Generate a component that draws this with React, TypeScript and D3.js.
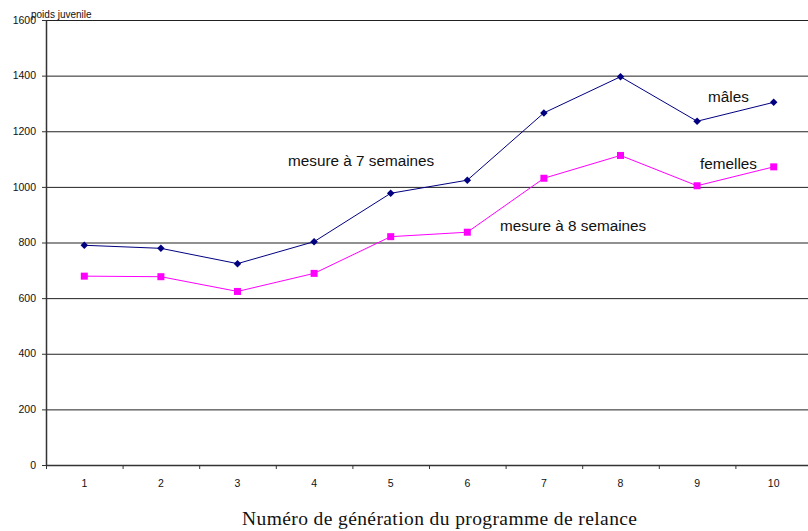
import { useEffect, useRef } from 'react'
import * as d3 from 'd3'

const generations = ['1', '2', '3', '4', '5', '6', '7', '8', '9', '10']
const males = [790, 779, 724, 803, 977, 1024, 1266, 1396, 1236, 1304]
const females = [679, 677, 624, 689, 821, 837, 1031, 1113, 1004, 1072]
const yTicks = [0, 200, 400, 600, 800, 1000, 1200, 1400, 1600]

export default function App() {
  const svgRef = useRef<SVGSVGElement>(null)
  const width = 808
  const height = 531

  useEffect(() => {
    if (!svgRef.current) return
    const svg = d3.select(svgRef.current)
    svg.selectAll('*').remove()

    const left = 46
    const top = 20
    const bottom = 465
    const right = 812

    const x = d3.scaleBand<string>().domain(generations).range([left, right])
    const y = d3.scaleLinear().domain([0, 1600]).range([bottom, top])
    const cx = (i: number) => (x(generations[i]) || 0) + x.bandwidth() / 2

    // gridlines
    svg
      .append('g')
      .selectAll('line')
      .data(yTicks.filter((t) => t > 0))
      .enter()
      .append('line')
      .attr('x1', left)
      .attr('x2', width)
      .attr('y1', (d) => y(d) + 0.5)
      .attr('y2', (d) => y(d) + 0.5)
      .attr('stroke', '#222')
      .attr('stroke-width', 1)

    // y axis
    const yAxis = svg.append('g').attr('font-family', 'Arial, Liberation Sans, sans-serif')
    yAxis
      .append('line')
      .attr('x1', left + 0.5)
      .attr('x2', left + 0.5)
      .attr('y1', top)
      .attr('y2', bottom)
      .attr('stroke', '#333')
      .attr('stroke-width', 1.5)
    yTicks.forEach((t) => {
      yAxis
        .append('line')
        .attr('x1', left - 4)
        .attr('x2', left)
        .attr('y1', y(t) + 0.5)
        .attr('y2', y(t) + 0.5)
        .attr('stroke', '#333')
      yAxis
        .append('text')
        .attr('x', left - 10)
        .attr('y', y(t))
        .attr('dy', '0.35em')
        .attr('text-anchor', 'end')
        .attr('font-size', 10.5)
        .attr('fill', '#111')
        .text(t)
    })

    // x axis
    const xAxis = svg.append('g').attr('font-family', 'Arial, Liberation Sans, sans-serif')
    xAxis
      .append('line')
      .attr('x1', left)
      .attr('x2', width)
      .attr('y1', bottom + 0.5)
      .attr('y2', bottom + 0.5)
      .attr('stroke', '#333')
      .attr('stroke-width', 1.5)
    generations.forEach((g, i) => {
      const x0 = x(g) || 0
      xAxis
        .append('line')
        .attr('x1', x0 + 0.5)
        .attr('x2', x0 + 0.5)
        .attr('y1', bottom)
        .attr('y2', bottom + 4)
        .attr('stroke', '#333')
      xAxis
        .append('text')
        .attr('x', cx(i))
        .attr('y', bottom + 22)
        .attr('text-anchor', 'middle')
        .attr('font-size', 10.5)
        .attr('fill', '#111')
        .text(g)
    })

    const line = d3
      .line<number>()
      .x((_, i) => cx(i))
      .y((d) => y(d))

    // males
    svg
      .append('path')
      .datum(males)
      .attr('d', line)
      .attr('fill', 'none')
      .attr('stroke', '#000080')
      .attr('stroke-width', 1)
    svg
      .append('g')
      .selectAll('path')
      .data(males)
      .enter()
      .append('path')
      .attr('d', d3.symbol(d3.symbolDiamond2, 36)())
      .attr('transform', (d, i) => `translate(${cx(i)},${y(d)})`)
      .attr('fill', '#000080')

    // females
    svg
      .append('path')
      .datum(females)
      .attr('d', line)
      .attr('fill', 'none')
      .attr('stroke', '#ff00ff')
      .attr('stroke-width', 1)
    svg
      .append('g')
      .selectAll('rect')
      .data(females)
      .enter()
      .append('rect')
      .attr('x', (d, i) => cx(i) - 3.5)
      .attr('y', (d) => y(d) - 3.5)
      .attr('width', 7)
      .attr('height', 7)
      .attr('fill', '#ff00ff')

    // annotations
    const ann = svg.append('g').attr('font-family', 'Arial, Liberation Sans, sans-serif').attr('fill', '#111')
    ann.append('text').attr('x', 31).attr('y', 18).attr('font-size', 10).text('poids juvenile')
    ann.append('text').attr('x', 288).attr('y', 166).attr('font-size', 15.3).text('mesure à 7 semaines')
    ann.append('text').attr('x', 500).attr('y', 231).attr('font-size', 15.3).text('mesure à 8 semaines')
    ann.append('text').attr('x', 708).attr('y', 102).attr('font-size', 15.3).text('mâles')
    ann.append('text').attr('x', 700).attr('y', 169).attr('font-size', 15.3).text('femelles')

    svg
      .append('text')
      .attr('x', 242)
      .attr('y', 525)
      .attr('textLength', 395)
      .attr('lengthAdjust', 'spacing')
      .attr('font-family', 'Times New Roman, Liberation Serif, serif')
      .attr('font-size', 19.5)
      .attr('fill', '#111')
      .text('Numéro de génération du programme de relance')
  }, [])

  return <svg ref={svgRef} width={width} height={height} style={{ display: 'block', position: 'absolute', left: 0, top: 0, background: '#fff' }} />
}
